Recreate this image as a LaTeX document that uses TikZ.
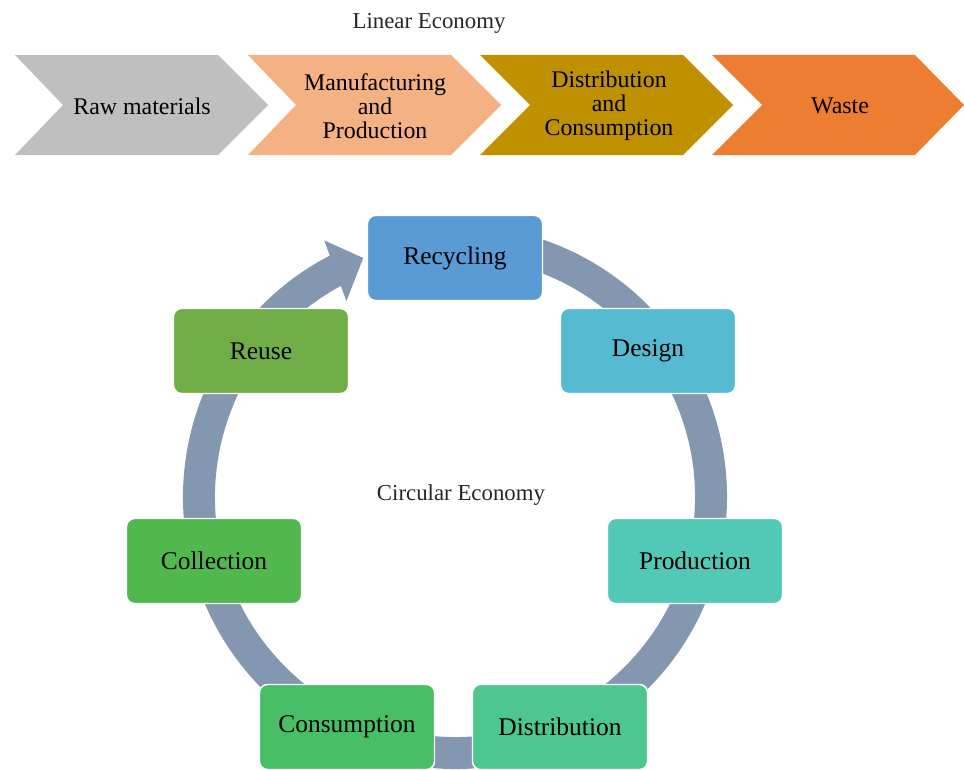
\documentclass[tikz,border=0pt]{standalone}
\usepackage{fontspec}
\setmainfont{Liberation Serif}
\usepackage{xcolor}
\usetikzlibrary{positioning}

\definecolor{rawgray}{HTML}{BFBFBF}
\definecolor{manupeach}{HTML}{F4B183}
\definecolor{distgold}{HTML}{BF9000}
\definecolor{wasteorange}{HTML}{ED7D31}
\definecolor{ringgray}{HTML}{8497B0}
\definecolor{recycblue}{HTML}{5B9BD5}
\definecolor{designteal}{HTML}{56BBD0}
\definecolor{prodteal}{HTML}{52C9B6}
\definecolor{distgreen}{HTML}{4DC78D}
\definecolor{consgreen}{HTML}{48BF66}
\definecolor{collgreen}{HTML}{50B84C}
\definecolor{reusegreen}{HTML}{70AD47}

\begin{document}
\begin{tikzpicture}[x=0.02cm, y=0.02cm,
  stage/.style={rounded corners=0.16cm, draw=white, line width=0.8pt,
    minimum width=3.5cm, minimum height=1.7cm, text=black,
    font=\fontsize{14.5}{17}\selectfont},
  chevtxt/.style={align=center, text=black, font=\fontsize{13.6}{13.8}\selectfont},
  heading/.style={text=black!85, font=\fontsize{13}{15}\selectfont}]
 \useasboundingbox (0,0) rectangle (964,769);

 %linear economy
 \node[heading] (lin) at (429,746) {Linear Economy};

 \fill[rawgray] (15,714) -- ++(203,0) -- ++(50,-50) -- ++(-50,-50) -- ++(-203,0) -- ++(48,50) -- cycle;
 \fill[manupeach] (248,714) -- ++(203,0) -- ++(50,-50) -- ++(-50,-50) -- ++(-203,0) -- ++(48,50) -- cycle;
 \fill[distgold] (480,714) -- ++(203,0) -- ++(50,-50) -- ++(-50,-50) -- ++(-203,0) -- ++(50,50) -- cycle;
 \fill[wasteorange] (712,714) -- ++(203,0) -- ++(49,-50) -- ++(-49,-50) -- ++(-203,0) -- ++(50,50) -- cycle;

 \node[chevtxt] (raw) at (142,663) {Raw materials};
 \node[chevtxt] (manu) at (375,663) {Manufacturing\\and\\Production};
 \node[chevtxt] (distcons) at (609,663) {Distribution\\and\\Consumption};
 \node[chevtxt] (waste) at (840,663) {Waste};

 %ring
 \coordinate (c) at (455,272);
 \draw[ringgray, line width=18.2pt] ([shift={(80:256)}]c) arc[start angle=80, end angle=-243, radius=256];
 \fill[ringgray] ([shift={(117:288)}]c) -- ([shift={(111:256)}]c) -- ([shift={(119:224)}]c) -- cycle;

 %circular economy
 \node[heading] (circ) at (461,274) {Circular Economy};

 \node[stage, fill=recycblue] (recyc) at (455,511) {Recycling};
 \node[stage, fill=designteal] (design) at (648,418) {Design};
 \node[stage, fill=prodteal] (prod) at (695,208) {Production};
 \node[stage, fill=distgreen] (dist) at (560,42) {Distribution};
 \node[stage, fill=consgreen] (cons) at (347,42) {Consumption};
 \node[stage, fill=collgreen] (coll) at (214,208) {Collection};
 \node[stage, fill=reusegreen] (reuse) at (261,418) {Reuse};

\end{tikzpicture}
\end{document}
